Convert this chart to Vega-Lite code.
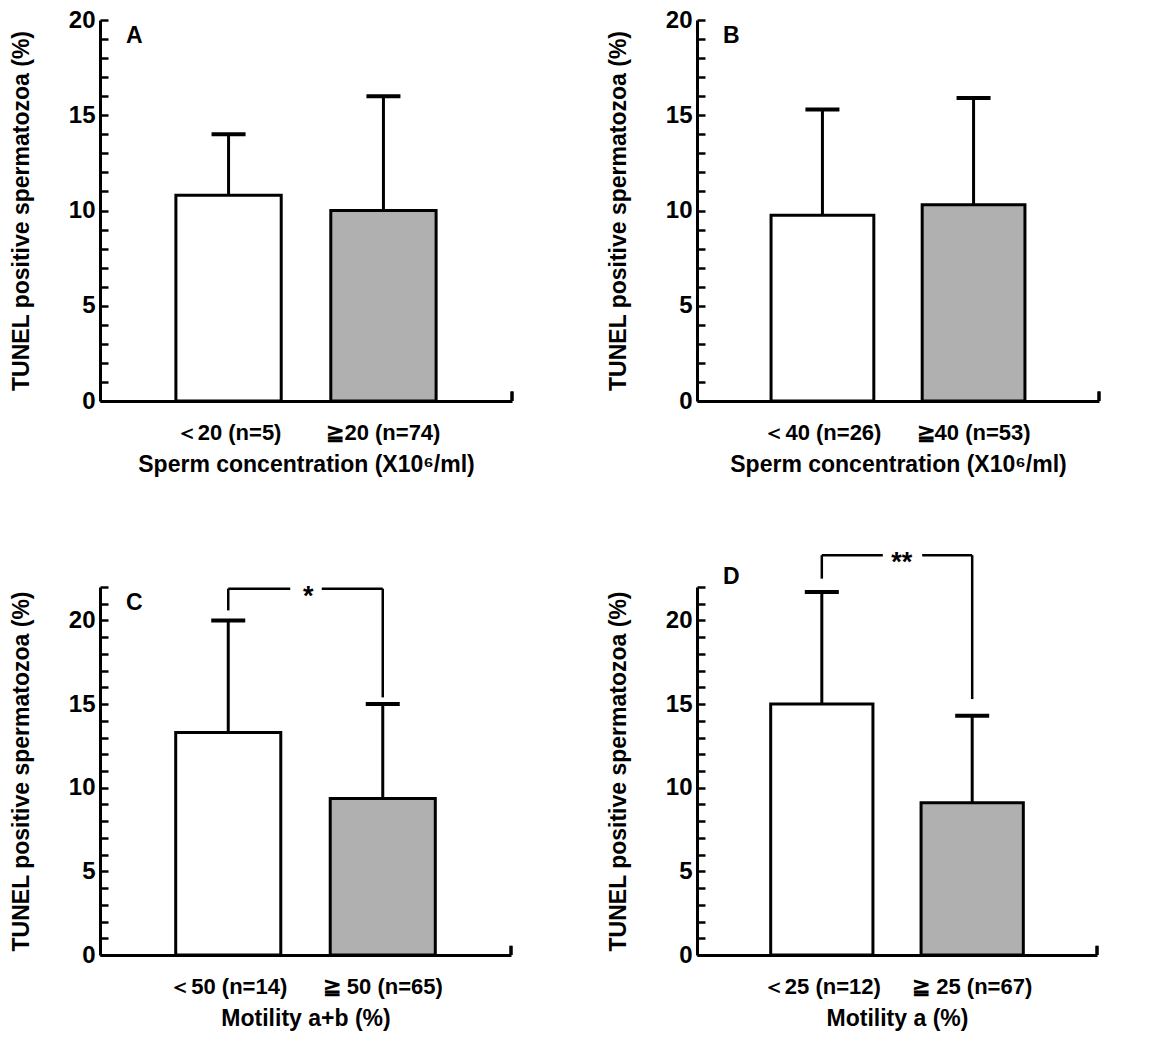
{
  "$schema": "https://vega.github.io/schema/vega-lite/v6.json",
  "background": "white",
  "padding": {"left": 10, "top": 8, "right": 2, "bottom": 2},
  "datasets": {
    "bars": [
      {"panel": "A", "group": "＜20 (n=5)", "level": "low", "value": 10.8, "upper": 14.0},
      {"panel": "A", "group": "≧20 (n=74)", "level": "high", "value": 10.0, "upper": 16.0},
      {"panel": "B", "group": "＜40 (n=26)", "level": "low", "value": 9.75, "upper": 15.3},
      {"panel": "B", "group": "≧40 (n=53)", "level": "high", "value": 10.3, "upper": 15.9},
      {"panel": "C", "group": "＜50 (n=14)", "level": "low", "value": 13.3, "upper": 20.0},
      {"panel": "C", "group": "≧ 50 (n=65)", "level": "high", "value": 9.35, "upper": 15.0},
      {"panel": "D", "group": "＜25 (n=12)", "level": "low", "value": 15.0, "upper": 21.7},
      {"panel": "D", "group": "≧ 25 (n=67)", "level": "high", "value": 9.1, "upper": 14.3}
    ],
    "brackets": [
      {"panel": "C", "g1": "＜50 (n=14)", "g2": "≧ 50 (n=65)", "top": 21.9, "leftEnd": 20.6, "rightEnd": 15.4, "label": "*"},
      {"panel": "D", "g1": "＜25 (n=12)", "g2": "≧ 25 (n=67)", "top": 23.9, "leftEnd": 22.5, "rightEnd": 15.3, "label": "**"}
    ]
  },
  "columns": 2,
  "spacing": {"column": 93, "row": 73},
  "concat": [
    {
      "width": 412, "height": 381,
      "title": {"text": "A"},
      "data": {"name": "bars"},
      "transform": [{"filter": "datum.panel === 'A'"}],
      "encoding": {
        "x": {"field": "group", "type": "nominal", "sort": null,
              "scale": {"domain": ["＜20 (n=5)", "≧20 (n=74)"], "paddingInner": 0.32, "paddingOuter": 0.49},
              "axis": {"title": "Sperm concentration (X10⁶/ml)"}}
      },
      "layer": [
        {"mark": {"type": "bar", "stroke": "black", "strokeWidth": 3},
         "encoding": {
           "y": {"field": "value", "type": "quantitative", "scale": {"domain": [0, 20], "nice": false},
                 "axis": {"title": "TUNEL positive spermatozoa (%)"}},
           "fill": {"field": "level", "type": "nominal", "scale": {"domain": ["low", "high"], "range": ["white", "#b0b0b0"]}, "legend": null}
         }},
        {"mark": {"type": "rule", "strokeWidth": 3, "color": "black"},
         "encoding": {"y": {"field": "value", "type": "quantitative"}, "y2": {"field": "upper"}}},
        {"mark": {"type": "tick", "thickness": 4, "size": 34, "color": "black", "opacity": 1},
         "encoding": {"y": {"field": "upper", "type": "quantitative"}}},
        {"mark": {"type": "rule", "strokeWidth": 3, "color": "black"},
         "encoding": {"x": {"value": "width"}, "y": {"datum": 0}, "y2": {"datum": 0.5}}}
      ]
    },
    {
      "width": 402, "height": 381,
      "title": {"text": "B"},
      "data": {"name": "bars"},
      "transform": [{"filter": "datum.panel === 'B'"}],
      "encoding": {
        "x": {"field": "group", "type": "nominal", "sort": null,
              "scale": {"domain": ["＜40 (n=26)", "≧40 (n=53)"], "paddingInner": 0.32, "paddingOuter": 0.49},
              "axis": {"title": "Sperm concentration (X10⁶/ml)"}}
      },
      "layer": [
        {"mark": {"type": "bar", "stroke": "black", "strokeWidth": 3},
         "encoding": {
           "y": {"field": "value", "type": "quantitative", "scale": {"domain": [0, 20], "nice": false},
                 "axis": {"title": "TUNEL positive spermatozoa (%)"}},
           "fill": {"field": "level", "type": "nominal", "scale": {"domain": ["low", "high"], "range": ["white", "#b0b0b0"]}, "legend": null}
         }},
        {"mark": {"type": "rule", "strokeWidth": 3, "color": "black"},
         "encoding": {"y": {"field": "value", "type": "quantitative"}, "y2": {"field": "upper"}}},
        {"mark": {"type": "tick", "thickness": 4, "size": 34, "color": "black", "opacity": 1},
         "encoding": {"y": {"field": "upper", "type": "quantitative"}}},
        {"mark": {"type": "rule", "strokeWidth": 3, "color": "black"},
         "encoding": {"x": {"value": "width"}, "y": {"datum": 0}, "y2": {"datum": 0.5}}}
      ]
    },
    {
      "width": 411, "height": 368,
      "title": {"text": "C"},
      "data": {"name": "bars"},
      "transform": [{"filter": "datum.panel === 'C'"}],
      "encoding": {
        "x": {"field": "group", "type": "nominal", "sort": null,
              "scale": {"domain": ["＜50 (n=14)", "≧ 50 (n=65)"], "paddingInner": 0.32, "paddingOuter": 0.49},
              "axis": {"title": "Motility a+b (%)"}}
      },
      "layer": [
        {"mark": {"type": "bar", "stroke": "black", "strokeWidth": 3},
         "encoding": {
           "y": {"field": "value", "type": "quantitative", "scale": {"domain": [0, 22], "nice": false},
                 "axis": {"title": "TUNEL positive spermatozoa (%)"}},
           "fill": {"field": "level", "type": "nominal", "scale": {"domain": ["low", "high"], "range": ["white", "#b0b0b0"]}, "legend": null}
         }},
        {"mark": {"type": "rule", "strokeWidth": 3, "color": "black"},
         "encoding": {"y": {"field": "value", "type": "quantitative"}, "y2": {"field": "upper"}}},
        {"mark": {"type": "tick", "thickness": 4, "size": 34, "color": "black", "opacity": 1},
         "encoding": {"y": {"field": "upper", "type": "quantitative"}}},
        {"mark": {"type": "rule", "strokeWidth": 3, "color": "black"},
         "encoding": {"x": {"value": "width"}, "y": {"datum": 0}, "y2": {"datum": 0.55}}},
        {"data": {"name": "brackets"}, "transform": [{"filter": "datum.panel === 'C'"}],
         "mark": {"type": "rule", "strokeWidth": 2.5, "color": "black"},
         "encoding": {"x": {"field": "g1", "type": "nominal"}, "y": {"field": "leftEnd", "type": "quantitative"}, "y2": {"field": "top"}}},
        {"data": {"name": "brackets"}, "transform": [{"filter": "datum.panel === 'C'"}],
         "mark": {"type": "rule", "strokeWidth": 2.5, "color": "black"},
         "encoding": {"x": {"field": "g2", "type": "nominal"}, "y": {"field": "rightEnd", "type": "quantitative"}, "y2": {"field": "top"}}},
        {"data": {"name": "brackets"}, "transform": [{"filter": "datum.panel === 'C'"}],
         "mark": {"type": "rule", "strokeWidth": 2.5, "color": "black", "x2Offset": 62},
         "encoding": {"x": {"field": "g1", "type": "nominal"}, "x2": {"field": "g1"}, "y": {"field": "top", "type": "quantitative"}}},
        {"data": {"name": "brackets"}, "transform": [{"filter": "datum.panel === 'C'"}],
         "mark": {"type": "rule", "strokeWidth": 2.5, "color": "black", "xOffset": -61},
         "encoding": {"x": {"field": "g2", "type": "nominal"}, "x2": {"field": "g2"}, "y": {"field": "top", "type": "quantitative"}}},
        {"data": {"name": "brackets"}, "transform": [{"filter": "datum.panel === 'C'"}],
         "mark": {"type": "text", "fontSize": 27, "fontWeight": "bold", "dx": 80, "dy": 8, "baseline": "middle", "align": "center", "color": "black"},
         "encoding": {"x": {"field": "g1", "type": "nominal"}, "y": {"field": "top", "type": "quantitative"}, "text": {"field": "label"}}}
      ]
    },
    {
      "width": 400, "height": 368,
      "title": {"text": "D"},
      "data": {"name": "bars"},
      "transform": [{"filter": "datum.panel === 'D'"}],
      "encoding": {
        "x": {"field": "group", "type": "nominal", "sort": null,
              "scale": {"domain": ["＜25 (n=12)", "≧ 25 (n=67)"], "paddingInner": 0.32, "paddingOuter": 0.49},
              "axis": {"title": "Motility a (%)"}}
      },
      "layer": [
        {"mark": {"type": "bar", "stroke": "black", "strokeWidth": 3},
         "encoding": {
           "y": {"field": "value", "type": "quantitative", "scale": {"domain": [0, 22], "nice": false},
                 "axis": {"title": "TUNEL positive spermatozoa (%)"}},
           "fill": {"field": "level", "type": "nominal", "scale": {"domain": ["low", "high"], "range": ["white", "#b0b0b0"]}, "legend": null}
         }},
        {"mark": {"type": "rule", "strokeWidth": 3, "color": "black"},
         "encoding": {"y": {"field": "value", "type": "quantitative"}, "y2": {"field": "upper"}}},
        {"mark": {"type": "tick", "thickness": 4, "size": 34, "color": "black", "opacity": 1},
         "encoding": {"y": {"field": "upper", "type": "quantitative"}}},
        {"mark": {"type": "rule", "strokeWidth": 3, "color": "black"},
         "encoding": {"x": {"value": "width"}, "y": {"datum": 0}, "y2": {"datum": 0.55}}},
        {"data": {"name": "brackets"}, "transform": [{"filter": "datum.panel === 'D'"}],
         "mark": {"type": "rule", "strokeWidth": 2.5, "color": "black"},
         "encoding": {"x": {"field": "g1", "type": "nominal"}, "y": {"field": "leftEnd", "type": "quantitative"}, "y2": {"field": "top"}}},
        {"data": {"name": "brackets"}, "transform": [{"filter": "datum.panel === 'D'"}],
         "mark": {"type": "rule", "strokeWidth": 2.5, "color": "black"},
         "encoding": {"x": {"field": "g2", "type": "nominal"}, "y": {"field": "rightEnd", "type": "quantitative"}, "y2": {"field": "top"}}},
        {"data": {"name": "brackets"}, "transform": [{"filter": "datum.panel === 'D'"}],
         "mark": {"type": "rule", "strokeWidth": 2.5, "color": "black", "x2Offset": 61},
         "encoding": {"x": {"field": "g1", "type": "nominal"}, "x2": {"field": "g1"}, "y": {"field": "top", "type": "quantitative"}}},
        {"data": {"name": "brackets"}, "transform": [{"filter": "datum.panel === 'D'"}],
         "mark": {"type": "rule", "strokeWidth": 2.5, "color": "black", "xOffset": -50},
         "encoding": {"x": {"field": "g2", "type": "nominal"}, "x2": {"field": "g2"}, "y": {"field": "top", "type": "quantitative"}}},
        {"data": {"name": "brackets"}, "transform": [{"filter": "datum.panel === 'D'"}],
         "mark": {"type": "text", "fontSize": 27, "fontWeight": "bold", "dx": 80, "dy": 8, "baseline": "middle", "align": "center", "color": "black"},
         "encoding": {"x": {"field": "g1", "type": "nominal"}, "y": {"field": "top", "type": "quantitative"}, "text": {"field": "label"}}}
      ]
    }
  ],
  "config": {
    "view": {"stroke": null},
    "font": "Liberation Sans, sans-serif",
    "title": {"anchor": "start", "frame": "group", "orient": "top", "offset": 0, "dx": 26, "dy": 44, "baseline": "alphabetic",
              "fontSize": 23, "fontWeight": "bold", "color": "black", "font": "Liberation Sans, sans-serif"},
    "axis": {"domainColor": "black", "domainWidth": 3, "tickColor": "black", "tickWidth": 2.5, "grid": false,
             "labelColor": "black", "titleColor": "black", "labelFontWeight": "bold", "titleFontWeight": "bold",
             "labelFont": "Liberation Sans, sans-serif", "titleFont": "Liberation Sans, sans-serif"},
    "axisY": {"tickSize": -8, "tickCount": 22, "labelPadding": 13, "labelFontSize": 24, "titleFontSize": 23, "titlePadding": 35,
              "labelOverlap": false, "labelExpr": "datum.value % 5 === 0 ? datum.label : ''"},
    "axisX": {"ticks": false, "labelAngle": 0, "labelFontSize": 22, "labelPadding": 21, "titleFontSize": 23, "titlePadding": 10}
  }
}
